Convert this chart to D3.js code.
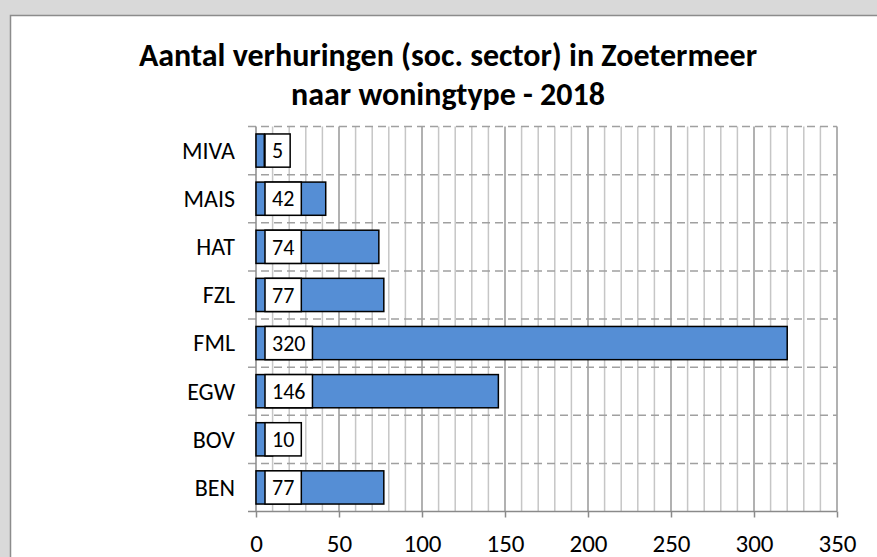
<!DOCTYPE html>
<html>
<head>
<meta charset="utf-8">
<script src="https://cdn.jsdelivr.net/npm/d3@7"></script>
<style>
  html, body { margin: 0; padding: 0; background: #d9d9d9; }
  svg { display: block; }
</style>
</head>
<body>
<svg id="chart"></svg>
<script>
// data
const categories = ["BEN", "BOV", "EGW", "FML", "FZL", "HAT", "MAIS", "MIVA"];
const values = [77, 10, 146, 320, 77, 74, 42, 5];
const xTicks = [0, 50, 100, 150, 200, 250, 300, 350];
const titleLines = ["Aantal verhuringen (soc. sector) in Zoetermeer", "naar woningtype - 2018"];

const width = 877;
const height = 557;
const font = "Carlito, Calibri, Lato, sans-serif";

const dataset = categories.map((c, i) => ({ cat: c, val: values[i] }));

let svg = d3.select("#chart").attr("width", width).attr("height", height);

// witte kaart met grijze rand
svg.append("rect")
  .attr("x", 10.5).attr("y", 15.5)
  .attr("width", width + 20).attr("height", height + 20)
  .attr("fill", "white")
  .attr("stroke", "#8c8c8c")
  .attr("stroke-width", 1.5);

// titel
svg.append("g")
  .selectAll("text")
  .data(titleLines)
  .enter()
  .append("text")
  .attr("x", 448)
  .attr("y", (d, i) => 66 + i * 39)
  .attr("text-anchor", "middle")
  .style("font-family", font)
  .style("font-weight", "bold")
  .style("font-size", "32px")
  .style("fill", "#000")
  .text((d) => d);

let scaleX = d3.scaleLinear().domain([0, 350]).range([256, 837]);

let scaleY = d3.scaleBand()
  .domain(categories.slice().reverse())
  .range([126.5, 511.5])
  .paddingInner(0.31)
  .paddingOuter(0.155);

const step = scaleY.step();
const bandTop = (c) => scaleY(c) - scaleY.paddingInner() * step / 2;

// verticale hulplijnen (om de 10), zwaarder om de 50
let minor = d3.range(10, 351, 10).filter((v) => v % 50 != 0);
svg.append("g")
  .selectAll("line")
  .data(minor)
  .enter()
  .append("line")
  .attr("x1", (d) => scaleX(d)).attr("x2", (d) => scaleX(d))
  .attr("y1", 126.5).attr("y2", 511.5)
  .attr("stroke", "#c6c6c6")
  .attr("stroke-width", 1.5);

svg.append("g")
  .selectAll("line")
  .data(xTicks.slice(1))
  .enter()
  .append("line")
  .attr("x1", (d) => scaleX(d)).attr("x2", (d) => scaleX(d))
  .attr("y1", 126.5).attr("y2", 511.5)
  .attr("stroke", "#979797")
  .attr("stroke-width", 1.5);

// horizontale gestippelde lijnen op de categoriegrenzen
svg.append("g")
  .selectAll("line")
  .data(categories)
  .enter()
  .append("line")
  .attr("x1", 248).attr("x2", scaleX(350))
  .attr("y1", (d) => bandTop(d)).attr("y2", (d) => bandTop(d))
  .attr("stroke", "#a0a0a0")
  .attr("stroke-width", 1.5)
  .attr("stroke-dasharray", "8,5");

// y-as
svg.append("line")
  .attr("x1", scaleX(0)).attr("x2", scaleX(0))
  .attr("y1", 126.5).attr("y2", 511.5)
  .attr("stroke", "#8a8a8a")
  .attr("stroke-width", 1.5);

// x-as
let xAxis = svg.append("g")
  .attr("transform", "translate(0,511.5)")
  .call(d3.axisBottom(scaleX).tickValues(xTicks).tickSizeInner(6).tickSizeOuter(0).tickPadding(17));

xAxis.select(".domain").remove();
xAxis.append("line")
  .attr("x1", 248).attr("x2", scaleX(350))
  .attr("stroke", "#8a8a8a")
  .attr("stroke-width", 1.5);
xAxis.selectAll(".tick line").attr("stroke", "#8a8a8a").attr("stroke-width", 1.5);
xAxis.selectAll(".tick text")
  .style("font-family", font)
  .style("font-size", "25px")
  .style("fill", "#000");

// categorielabels
svg.append("g")
  .selectAll("text")
  .data(dataset)
  .enter()
  .append("text")
  .attr("x", 235)
  .attr("y", (d) => scaleY(d.cat) + scaleY.bandwidth() / 2)
  .attr("dy", "0.35em")
  .attr("text-anchor", "end")
  .style("font-family", font)
  .style("font-size", "24px")
  .style("fill", "#000")
  .text((d) => d.cat);

// balken
svg.append("g")
  .selectAll("rect")
  .data(dataset)
  .enter()
  .append("rect")
  .attr("x", scaleX(0))
  .attr("y", (d) => scaleY(d.cat))
  .attr("width", (d) => scaleX(d.val) - scaleX(0))
  .attr("height", scaleY.bandwidth())
  .attr("fill", "#558ed5")
  .attr("stroke", "#000")
  .attr("stroke-width", 1.5);

// waardelabels in witte kaders
let labels = svg.append("g")
  .selectAll("g")
  .data(dataset)
  .enter()
  .append("g");

labels.append("rect")
  .attr("class", "label-box")
  .attr("x", 265)
  .attr("y", (d) => scaleY(d.cat))
  .attr("height", scaleY.bandwidth())
  .attr("fill", "white")
  .attr("stroke", "#000")
  .attr("stroke-width", 1.5);

labels.append("text")
  .attr("y", (d) => scaleY(d.cat) + scaleY.bandwidth() / 2)
  .attr("dy", "0.35em")
  .attr("text-anchor", "middle")
  .style("font-family", font)
  .style("font-size", "22px")
  .style("fill", "#000")
  .text((d) => d.val);

labels.each(function () {
  let g = d3.select(this);
  let w = g.select("text").node().getComputedTextLength() + 14;
  g.select("rect").attr("width", w);
  g.select("text").attr("x", 265 + w / 2);
});
</script>
</body>
</html>
